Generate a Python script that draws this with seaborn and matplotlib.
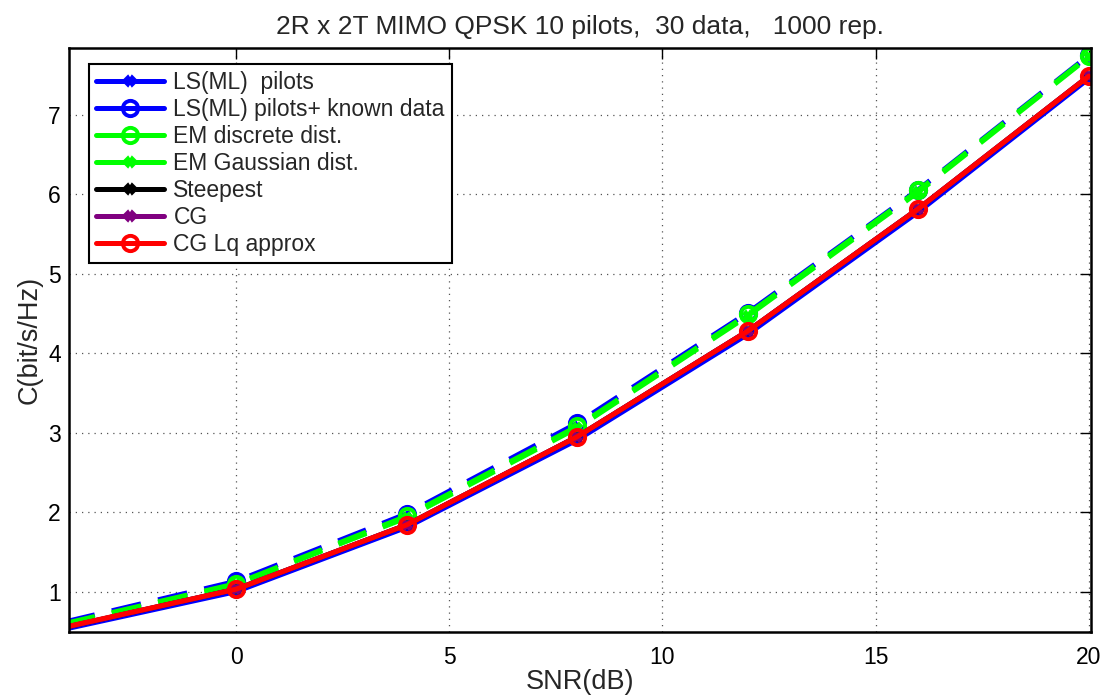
import matplotlib
matplotlib.use("Agg")
import matplotlib.pyplot as plt
import seaborn as sns
import numpy as np
import pandas as pd

snr = [-4, 0, 4, 8, 12, 16, 20]
ls_pilots = [0.53, 1.00, 1.81, 2.91, 4.24, 5.78, 7.46]
ls_known = [0.62, 1.13, 1.98, 3.12, 4.51, 6.06, 7.75]
em_discrete = [0.60, 1.10, 1.95, 3.08, 4.49, 6.05, 7.74]
em_gauss = [0.59, 1.09, 1.93, 3.06, 4.47, 6.03, 7.73]
steepest = [0.55, 1.03, 1.84, 2.95, 4.28, 5.82, 7.49]
cg = [0.55, 1.03, 1.84, 2.95, 4.28, 5.82, 7.49]
cg_lq = [0.555, 1.03, 1.84, 2.95, 4.28, 5.82, 7.49]

series = [
    ("LS(ML)  pilots", ls_pilots, "#0000ff", "X", "solid"),
    ("LS(ML) pilots+ known data", ls_known, "#0000ff", "o", "dashed"),
    ("EM discrete dist.", em_discrete, "#00ff00", "o", "dashed"),
    ("EM Gaussian dist.", em_gauss, "#00ff00", "X", "dashed"),
    ("Steepest", steepest, "#000000", "X", "solid"),
    ("CG", cg, "#800080", "X", "solid"),
    ("CG Lq approx", cg_lq, "#ff0000", "o", "solid"),
]

sns.set_style("white")
plt.rcParams['font.family'] = ['Liberation Sans', 'DejaVu Sans']

fig = plt.figure(figsize=(11.06, 7.0), dpi=100)
ax = fig.add_axes([0.0624, 0.097, 0.924, 0.834])

for name, vals, col, mk, ls in series:
    df = pd.DataFrame({"x": snr, "y": vals})
    sns.lineplot(x="x", y="y", data=df, ax=ax, color=col, lw=3.6, label=name,
                 marker=mk, markersize=11 if mk == "o" else 7,
                 markerfacecolor="none" if mk == "o" else col,
                 markeredgecolor=col, markeredgewidth=2.8 if mk == "o" else 1.5,
                 markevery=list(range(1, len(snr))))
    l = ax.lines[-1]
    if ls == "dashed":
        l.set_dashes((6, 3.5))

ax.set_xlim(-3.92, 20.05)
ax.set_ylim(0.49, 7.84)
ax.set_xticks([0, 5, 10, 15, 20])
ax.set_yticks([1, 2, 3, 4, 5, 6, 7])
ax.grid(True, linestyle=(0, (1, 4)), color="#555555", linewidth=0.9)
ax.tick_params(direction="in", length=8, width=1, labelsize=16.5, top=True, right=True,
               colors="black")
ax.tick_params(axis="x", pad=10)
ax.tick_params(axis="y", pad=6)
for s in ax.spines.values():
    s.set_visible(True)
    s.set_color("black")
    s.set_linewidth(1.8)

ax.set_xlabel("SNR(dB)", fontsize=19.5, labelpad=0)
ax.set_ylabel("C(bit/s/Hz)", fontsize=19.5, labelpad=4)
ax.set_title("2R x 2T MIMO QPSK 10 pilots,  30 data,   1000 rep.", fontsize=19, pad=10)

leg = ax.legend(loc="upper left", bbox_to_anchor=(0.008, 0.993), fontsize=16.5,
                frameon=True, fancybox=False, edgecolor="black", framealpha=1,
                handlelength=3.0, borderpad=0.3, labelspacing=0.18, handletextpad=0.4)
leg.get_frame().set_linewidth(1.5)
for hl in leg.get_lines():
    hl.set_linestyle("-")

fig.savefig("out.png", dpi=100)
